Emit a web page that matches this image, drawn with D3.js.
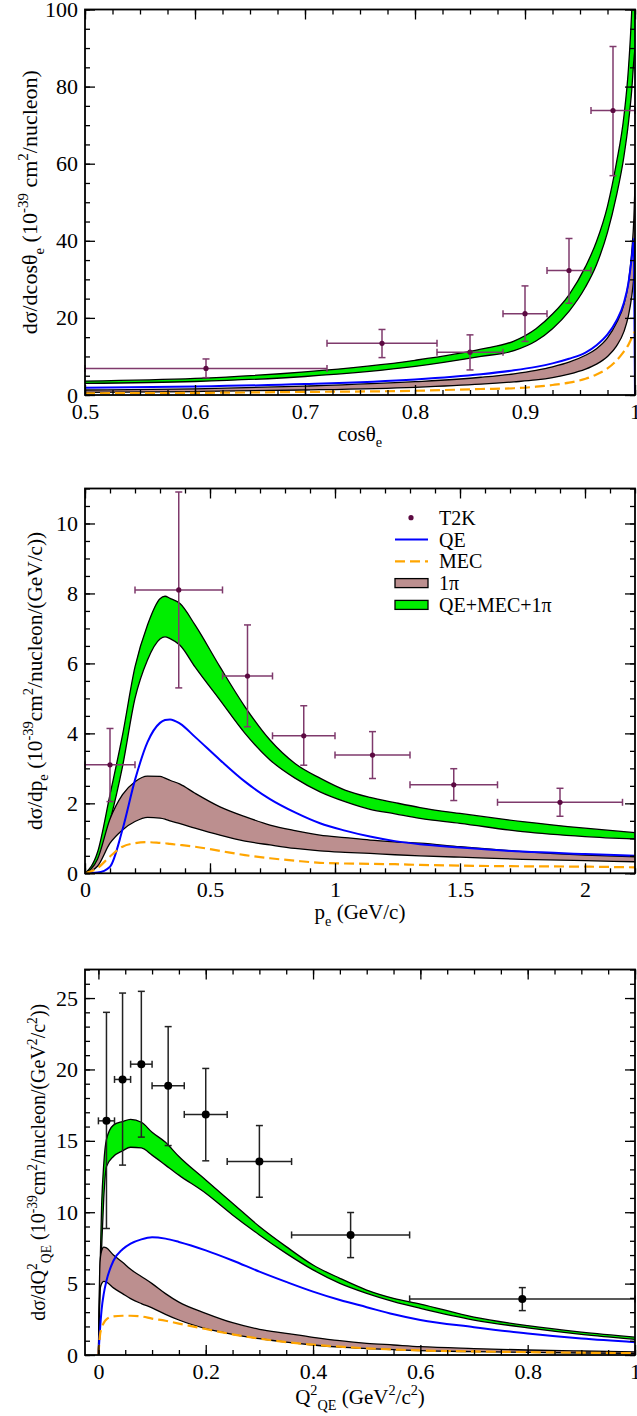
<!DOCTYPE html>
<html>
<head>
<meta charset="utf-8">
<title>T2K nu_e CC inclusive</title>
<style>
  body { margin: 0; background: #fff; }
  svg text, svg tspan { font-family: "Liberation Serif", "Times New Roman", Times, "DejaVu Serif", serif !important; fill: #000; }
</style>
</head>
<body>
<script src="https://cdn.jsdelivr.net/npm/d3@7/dist/d3.min.js"></script>
<script>
// ---------- panel 1 : cos(theta_e) ----------
var cosX     = [0.5, 0.6, 0.7, 0.8, 0.86, 0.89, 0.91, 0.925, 0.94, 0.955, 0.965, 0.975, 0.983, 0.99, 0.994, 0.997, 0.999, 1.0];
var cosTotHi = [3.6, 4.3, 6.0, 9.0, 11.9, 14.0, 17.2, 21.0, 26.0, 33.3, 39.8, 49.0, 60.0, 72.5, 84.5, 99.5, 115, 125];
var cosTotLo = [3.0, 3.5, 4.8, 7.4, 10.0, 11.5, 14.0, 17.2, 21.7, 28.0, 33.8, 42.2, 51.5, 62.0, 70.5, 79.0, 87.0, 90.0];
var cosQE    = [1.9, 2.2, 2.85, 4.05, 5.4, 6.4, 7.3, 8.2, 9.4, 11.0, 12.9, 15.7, 19.2, 24.0, 29.0, 35.5, 40.5, 0];
var cosPiHi  = [1.3, 1.6, 2.3, 3.45, 4.6, 5.5, 6.4, 7.3, 8.5, 10.3, 12.0, 14.8, 18.6, 23.6, 29.0, 37.0, 46.0, 54.5];
var cosPiLo  = [0.7, 0.9, 1.3, 2.0, 2.8, 3.4, 3.9, 4.5, 5.4, 6.7, 8.0, 10.0, 12.6, 16.5, 20.5, 25.5, 30.5, 33.0];
var cosMEC   = [0.45, 0.55, 0.8, 1.1, 1.55, 1.75, 2.15, 2.6, 3.2, 4.2, 5.3, 6.9, 8.9, 11.3, 13.0, 14.8, 16.0, 16.5];
// T2K points: x, y, xlow, xhigh, ylow, yhigh
var cosData = [
  [0.61, 6.9, 0.5, 0.72, 4.5, 9.35],
  [0.77, 13.4, 0.72, 0.82, 9.7, 17.0],
  [0.85, 11.1, 0.82, 0.88, 6.5, 15.6],
  [0.90, 21.1, 0.88, 0.92, 13.9, 28.3],
  [0.94, 32.3, 0.92, 0.96, 23.8, 40.6],
  [0.98, 73.8, 0.96, 1.0, 56.9, 90.4]
];
var cosXTicks = [0.5, 0.6, 0.7, 0.8, 0.9, 1];
var cosYTicks = [0, 20, 40, 60, 80, 100];

// ---------- panel 2 : p_e ----------
var peX     = [0, 0.05, 0.1, 0.15, 0.2, 0.25, 0.3, 0.32, 0.34, 0.38, 0.44, 0.54, 0.64, 0.74, 0.84, 0.94, 1.04, 1.14, 1.24, 1.34, 1.5, 1.75, 2.0, 2.2];
var peTotHi = [0, 0.6, 2.25, 3.95, 5.9, 7.1, 7.85, 7.92, 7.86, 7.71, 7.1, 5.9, 4.76, 3.81, 3.14, 2.72, 2.38, 2.17, 2.02, 1.88, 1.71, 1.48, 1.29, 1.16];
var peTotLo = [0, 0.35, 1.5, 3.05, 5.0, 6.1, 6.7, 6.76, 6.71, 6.52, 5.9, 4.95, 4.0, 3.24, 2.72, 2.33, 2.05, 1.83, 1.7, 1.57, 1.43, 1.19, 1.05, 0.98];
var peQE    = [0, 0.02, 0.19, 1.25, 2.67, 3.75, 4.3, 4.38, 4.4, 4.28, 3.9, 3.24, 2.62, 2.12, 1.74, 1.43, 1.22, 1.05, 0.92, 0.83, 0.74, 0.62, 0.55, 0.5];
var pePiHi  = [0, 0.4, 1.55, 2.25, 2.62, 2.78, 2.77, 2.72, 2.66, 2.55, 2.29, 1.9, 1.62, 1.38, 1.22, 1.09, 1.02, 0.95, 0.9, 0.86, 0.76, 0.62, 0.52, 0.47];
var pePiLo  = [0, 0.2, 0.86, 1.24, 1.48, 1.6, 1.58, 1.55, 1.5, 1.42, 1.29, 1.09, 0.92, 0.81, 0.71, 0.64, 0.6, 0.57, 0.53, 0.5, 0.46, 0.4, 0.36, 0.33];
var peMEC   = [0, 0.15, 0.48, 0.76, 0.86, 0.89, 0.87, 0.86, 0.84, 0.81, 0.76, 0.64, 0.52, 0.43, 0.36, 0.3, 0.28, 0.27, 0.26, 0.24, 0.22, 0.2, 0.19, 0.17];
var peData = [
  [0.1, 3.1, 0, 0.2, 2.05, 4.14],
  [0.375, 8.1, 0.2, 0.55, 5.3, 10.9],
  [0.65, 5.64, 0.55, 0.75, 4.19, 7.1],
  [0.875, 3.93, 0.75, 1.0, 3.09, 4.79],
  [1.15, 3.38, 1.0, 1.3, 2.71, 4.05],
  [1.475, 2.53, 1.3, 1.65, 2.08, 2.99],
  [1.9, 2.03, 1.65, 2.15, 1.63, 2.43]
];
var peXTicks = [0, 0.5, 1, 1.5, 2];
var peYTicks = [0, 2, 4, 6, 8, 10];
var legendLabels = ["T2K", "QE", "MEC", "1\u03c0", "QE+MEC+1\u03c0"];

// ---------- panel 3 : Q2_QE ----------
var q2X     = [0, 0.003, 0.006, 0.01, 0.015, 0.028, 0.045, 0.06, 0.08, 0.1, 0.125, 0.15, 0.2, 0.25, 0.3, 0.35, 0.4, 0.45, 0.5, 0.55, 0.6, 0.7, 0.8, 0.9, 1.0];
var q2TotHi = [0, 6.0, 10.5, 13.4, 15.1, 16.1, 16.35, 16.5, 16.3, 15.6, 14.9, 13.9, 12.26, 10.63, 9.0, 7.59, 6.3, 5.37, 4.55, 3.97, 3.57, 2.65, 2.05, 1.6, 1.25];
var q2TotLo = [0, 4.5, 7.5, 11.0, 13.2, 13.9, 14.3, 14.55, 14.5, 14.0, 13.3, 12.6, 11.33, 9.81, 8.41, 7.12, 5.96, 5.02, 4.32, 3.74, 3.27, 2.45, 1.9, 1.45, 1.1];
var q2QE    = [0, 1.8, 3.2, 4.3, 5.2, 6.6, 7.4, 7.8, 8.1, 8.25, 8.15, 7.92, 7.33, 6.62, 5.84, 5.12, 4.44, 3.85, 3.35, 2.85, 2.45, 1.95, 1.5, 1.15, 0.9];
var q2PiHi  = [0, 6.5, 7.3, 7.55, 7.5, 7.0, 6.5, 6.0, 5.5, 5.0, 4.3, 3.7, 2.92, 2.26, 1.8, 1.52, 1.24, 1.0, 0.82, 0.7, 0.58, 0.45, 0.35, 0.28, 0.22];
var q2PiLo  = [0, 4.6, 5.0, 5.15, 5.1, 4.7, 4.3, 3.95, 3.6, 3.3, 2.85, 2.45, 1.85, 1.45, 1.15, 0.9, 0.7, 0.55, 0.45, 0.37, 0.3, 0.23, 0.18, 0.14, 0.12];
var q2MEC   = [0, 1.4, 1.9, 2.25, 2.5, 2.7, 2.75, 2.75, 2.7, 2.55, 2.4, 2.2, 1.82, 1.45, 1.15, 0.9, 0.72, 0.58, 0.47, 0.38, 0.32, 0.25, 0.2, 0.16, 0.13];
var q2Data = [
  [0.015, 16.4, 0, 0.03, 8.86, 24.0],
  [0.045, 19.3, 0.03, 0.06, 13.3, 25.35],
  [0.08, 20.37, 0.06, 0.10, 15.26, 25.47],
  [0.13, 18.86, 0.10, 0.16, 14.67, 23.0],
  [0.20, 16.85, 0.16, 0.24, 13.6, 20.07],
  [0.30, 13.55, 0.24, 0.36, 11.05, 16.07],
  [0.47, 8.41, 0.36, 0.58, 6.82, 9.98],
  [0.79, 3.93, 0.58, 1.0, 3.11, 4.72]
];
var q2XTicks = [0, 0.2, 0.4, 0.6, 0.8, 1];
var q2YTicks = [0, 5, 10, 15, 20, 25];

// ---------- drawing ----------
var width = 637, height = 1416;
var left = 85, right = 635;
var serif = '"Liberation Serif", "Times New Roman", Times, "DejaVu Serif", serif';
var green = "#00ee00", brown = "#bc8f8f", blue = "#0000ff", orange = "#ffa500";
var svg = d3.select("body").append("svg")
  .attr("width", width)
  .attr("height", height)
  .attr("font-family", serif);

// text with sub/superscripts, parts = [[text, "" | "sup" | "sub"], ...]
function rich(t, parts, size) {
  var cur = 0;
  parts.forEach(function(p) {
    var target = 0, fs = size;
    if (p[1] == "sup") { target = -0.42 * size; fs = size * 0.68; }
    if (p[1] == "sub") { target = 0.3 * size; fs = size * 0.68; }
    t.append("tspan").attr("dy", target - cur).attr("font-size", fs).text(p[0]);
    cur = target;
  });
}

function panel(p) {
  var x = d3.scaleLinear().domain(p.xDomain).range([left, right]);
  var y = d3.scaleLinear().domain(p.yDomain).range([p.bottom, p.top]);

  svg.append("clipPath").attr("id", "clip" + p.id)
    .append("rect")
    .attr("x", left).attr("y", p.top)
    .attr("width", right - left).attr("height", p.bottom - p.top);
  var plot = svg.append("g").attr("clip-path", "url(#clip" + p.id + ")");

  function curve(xs, ys) {
    return xs.map(function(d, i) { return [d, ys[i]]; });
  }
  var line = d3.line().curve(d3.curveMonotoneX)
    .x(function(d) { return x(d[0]); })
    .y(function(d) { return y(d[1]); });

  function band(lo, hi, fill) {
    var pts = p.x.map(function(d, i) { return [d, lo[i], hi[i]]; });
    plot.append("path").datum(pts)
      .attr("fill", fill)
      .attr("d", d3.area().curve(d3.curveMonotoneX)
        .x(function(d) { return x(d[0]); })
        .y0(function(d) { return y(d[1]); })
        .y1(function(d) { return y(d[2]); }));
    [lo, hi].forEach(function(ys) {
      plot.append("path").datum(curve(p.x, ys))
        .attr("fill", "none").attr("stroke", "#000").attr("stroke-width", 1.3)
        .attr("d", line);
    });
  }
  band(p.totLo, p.totHi, green);
  band(p.piLo, p.piHi, brown);
  plot.append("path").datum(curve(p.x, p.qe))
    .attr("fill", "none").attr("stroke", blue).attr("stroke-width", 2)
    .attr("d", line);
  plot.append("path").datum(curve(p.x, p.mec))
    .attr("fill", "none").attr("stroke", orange).attr("stroke-width", 2.2)
    .attr("stroke-dasharray", "10,5")
    .attr("d", line);

  // data points with error bars
  var cap = 3.5;
  var pts = svg.append("g").attr("stroke", p.errColor).attr("stroke-width", 1.5);
  p.data.forEach(function(d) {
    var cx = x(d[0]), cy = y(d[1]);
    pts.append("line").attr("x1", x(d[2])).attr("x2", x(d[3])).attr("y1", cy).attr("y2", cy);
    pts.append("line").attr("x1", x(d[2])).attr("x2", x(d[2])).attr("y1", cy - cap).attr("y2", cy + cap);
    pts.append("line").attr("x1", x(d[3])).attr("x2", x(d[3])).attr("y1", cy - cap).attr("y2", cy + cap);
    pts.append("line").attr("x1", cx).attr("x2", cx).attr("y1", y(d[4])).attr("y2", y(d[5]));
    pts.append("line").attr("x1", cx - cap).attr("x2", cx + cap).attr("y1", y(d[4])).attr("y2", y(d[4]));
    pts.append("line").attr("x1", cx - cap).attr("x2", cx + cap).attr("y1", y(d[5])).attr("y2", y(d[5]));
    svg.append("circle").attr("cx", cx).attr("cy", cy).attr("r", p.dotR).attr("fill", p.dotColor);
  });

  // axes: ticks point inward on all four sides
  var fmt = d3.format("~g");
  var xMinor = d3.range(p.xDomain[0] < 0 ? 0 : p.xDomain[0], p.xDomain[1] + 1e-9, p.xMinor);
  var yMinor = d3.range(p.yDomain[0], p.yDomain[1] + 1e-9, p.yMinor);
  function ax(gen, tx, ty, vals, size, labels, pad) {
    var g = svg.append("g")
      .attr("transform", "translate(" + tx + "," + ty + ")")
      .call(gen.tickValues(vals).tickSize(-size).tickPadding(pad || 3)
        .tickFormat(labels ? fmt : ""));
    g.select(".domain").remove();
    g.selectAll(".tick line").attr("stroke", "#000").attr("stroke-width", 1.3);
    g.attr("font-size", 22).attr("font-family", serif);
    g.selectAll("text").attr("font-family", serif);
    return g;
  }
  ax(d3.axisBottom(x), 0, p.bottom, p.xTicks, 10, true, 8.5);
  ax(d3.axisBottom(x), 0, p.bottom, xMinor, 5, false);
  ax(d3.axisTop(x), 0, p.top, p.xTicks, 10, false);
  ax(d3.axisTop(x), 0, p.top, xMinor, 5, false);
  ax(d3.axisLeft(y), left, 0, p.yTicks, 10, true, 7);
  ax(d3.axisLeft(y), left, 0, yMinor, 5, false);
  ax(d3.axisRight(y), right, 0, p.yTicks, 10, false);
  ax(d3.axisRight(y), right, 0, yMinor, 5, false);

  svg.append("rect")
    .attr("x", left).attr("y", p.top)
    .attr("width", right - left).attr("height", p.bottom - p.top)
    .attr("fill", "none").attr("stroke", "#000").attr("stroke-width", 1.8);

  // titles
  var xt = svg.append("text")
    .attr("x", (left + right) / 2).attr("y", p.bottom + p.xTitleGap)
    .attr("text-anchor", "middle").attr("font-size", 21).attr("font-family", serif);
  rich(xt, p.xTitle, 21);
  var yc = (p.top + p.bottom) / 2;
  var yt = svg.append("text")
    .attr("transform", "translate(" + p.yTitleX + "," + yc + ") rotate(-90)")
    .attr("text-anchor", "middle").attr("font-size", p.yTitleSize).attr("font-family", serif);
  rich(yt, p.yTitle, p.yTitleSize);

  return { x: x, y: y };
}

panel({
  id: 1, top: 9.5, bottom: 395,
  xDomain: [0.5, 1], yDomain: [0, 100], xMinor: 0.025, yMinor: 5,
  xTicks: cosXTicks, yTicks: cosYTicks,
  x: cosX, totLo: cosTotLo, totHi: cosTotHi, qe: cosQE, mec: cosMEC, piLo: cosPiLo, piHi: cosPiHi,
  data: cosData, errColor: "#7f3a6c", dotColor: "#5c0a42", dotR: 2.6,
  xTitleGap: 46, yTitleX: 37, yTitleSize: 22,
  xTitle: [["cos\u03b8", ""], ["e", "sub"]],
  yTitle: [["d\u03c3/dcos\u03b8", ""], ["e", "sub"], [" (10", ""], ["-39", "sup"], [" cm", ""], ["2", "sup"], ["/nucleon)", ""]]
});

panel({
  id: 2, top: 488.5, bottom: 873.3,
  xDomain: [0, 2.2], yDomain: [0, 11], xMinor: 0.1, yMinor: 0.5,
  xTicks: peXTicks, yTicks: peYTicks,
  x: peX, totLo: peTotLo, totHi: peTotHi, qe: peQE, mec: peMEC, piLo: pePiLo, piHi: pePiHi,
  data: peData, errColor: "#7f3a6c", dotColor: "#5c0a42", dotR: 2.6,
  xTitleGap: 46, yTitleX: 42, yTitleSize: 21.3,
  xTitle: [["p", ""], ["e", "sub"], [" (GeV/c)", ""]],
  yTitle: [["d\u03c3/dp", ""], ["e", "sub"], [" (10", ""], ["-39", "sup"], ["cm", ""], ["2", "sup"], ["/nucleon/(GeV/c))", ""]]
});

panel({
  id: 3, top: 969.5, bottom: 1355,
  xDomain: [-0.025, 1], yDomain: [0, 27], xMinor: 0.05, yMinor: 1,
  xTicks: q2XTicks, yTicks: q2YTicks,
  x: q2X, totLo: q2TotLo, totHi: q2TotHi, qe: q2QE, mec: q2MEC, piLo: q2PiLo, piHi: q2PiHi,
  data: q2Data, errColor: "#222", dotColor: "#000", dotR: 4,
  xTitleGap: 49, yTitleX: 45, yTitleSize: 20,
  xTitle: [["Q", ""], ["2", "sup"], ["QE", "sub"], [" (GeV", ""], ["2", "sup"], ["/c", ""], ["2", "sup"], [")", ""]],
  yTitle: [["d\u03c3/dQ", ""], ["2", "sup"], ["QE", "sub"], [" (10", ""], ["-39", "sup"], ["cm", ""], ["2", "sup"], ["/nucleon/(GeV", ""], ["2", "sup"], ["/c", ""], ["2", "sup"], ["))", ""]]
});

// legend (middle panel)
var lg = svg.append("g").attr("font-size", 20).attr("font-family", serif);
var lx0 = 395, lx1 = 428, ly0 = 517.7, lstep = 21.8;
legendLabels.forEach(function(label, i) {
  var ly = ly0 + i * lstep;
  if (i == 0) lg.append("circle").attr("cx", (lx0 + lx1) / 2 - 0.5).attr("cy", ly).attr("r", 2.6).attr("fill", "#5c0a42");
  if (i == 1) lg.append("line").attr("x1", lx0).attr("x2", lx1).attr("y1", ly).attr("y2", ly).attr("stroke", blue).attr("stroke-width", 2);
  if (i == 2) lg.append("line").attr("x1", lx0).attr("x2", lx1).attr("y1", ly).attr("y2", ly).attr("stroke", orange).attr("stroke-width", 2.2).attr("stroke-dasharray", "10,5");
  if (i >= 3) lg.append("rect").attr("x", lx0).attr("y", ly - 4.5).attr("width", lx1 - lx0).attr("height", 9)
    .attr("fill", i == 3 ? brown : green).attr("stroke", "#000").attr("stroke-width", 1.3);
  lg.append("text").attr("x", 439).attr("y", ly + 7).attr("font-family", serif).text(label);
});
</script>
</body>
</html>
